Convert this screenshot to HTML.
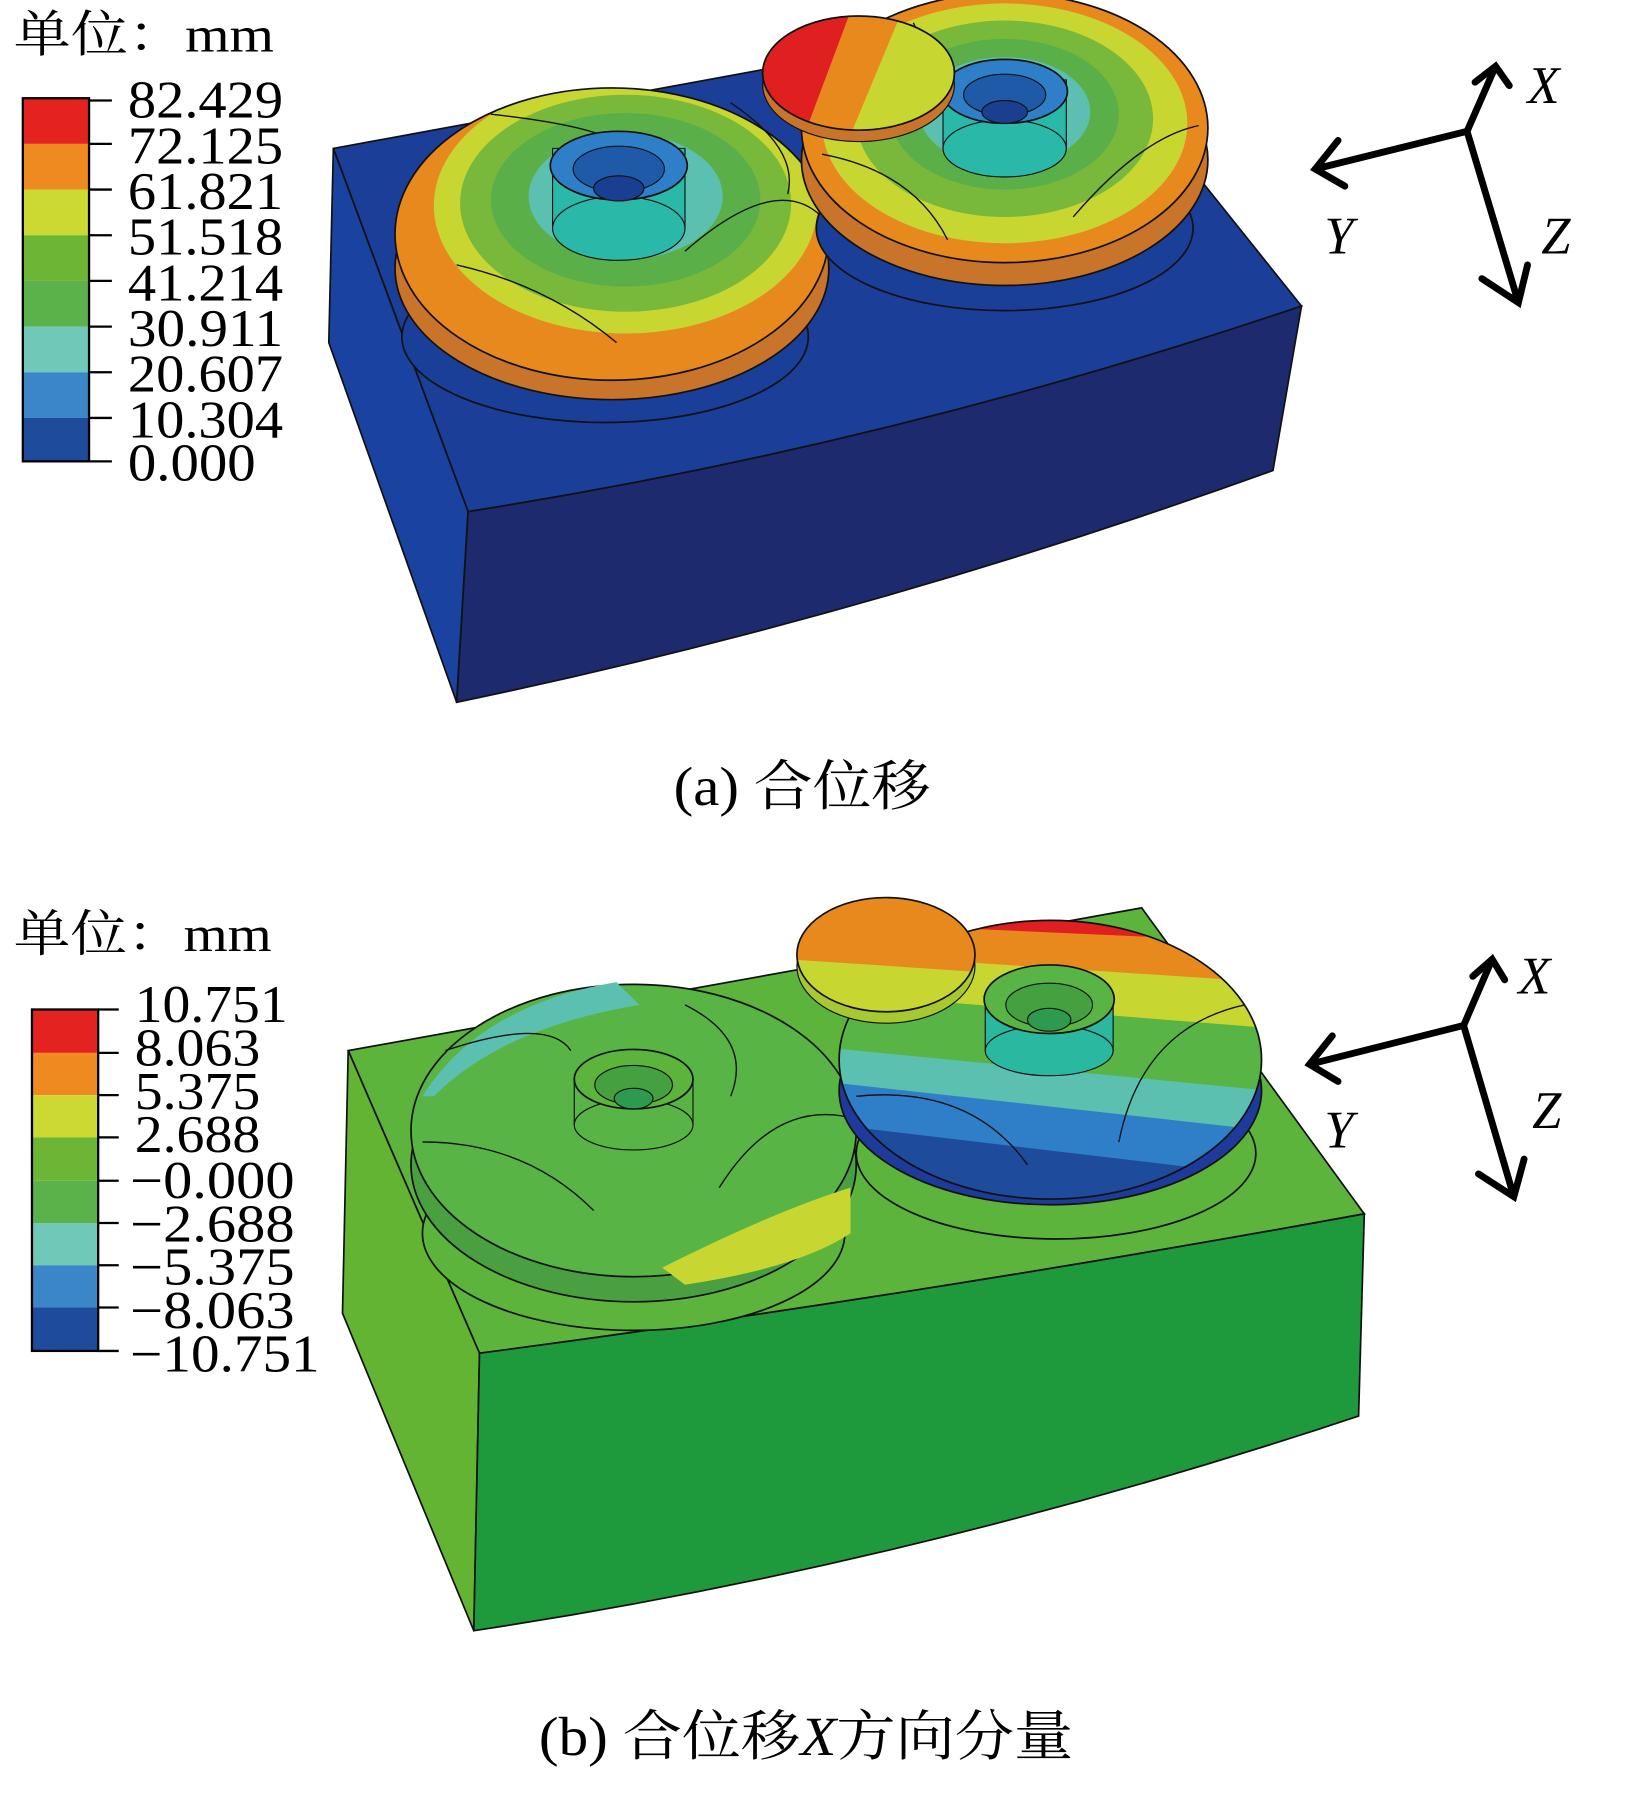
<!DOCTYPE html>
<html><head><meta charset="utf-8"><style>
html,body{margin:0;padding:0;background:#fff}
svg{display:block}
text{font-family:"Liberation Serif","Noto Serif CJK SC","Noto Sans CJK SC",serif}
</style></head><body>
<svg width="1644" height="1802" viewBox="0 0 1440 1578" preserveAspectRatio="none" xmlns="http://www.w3.org/2000/svg">
<defs>
<clipPath id="gA1"><ellipse cx="536" cy="205" rx="190" ry="128"/></clipPath>
<clipPath id="gA2"><ellipse cx="880" cy="112" rx="178" ry="118"/></clipPath>
<clipPath id="dA"><ellipse cx="752" cy="64" rx="84" ry="50"/></clipPath>
<clipPath id="gB2"><ellipse cx="920" cy="928" rx="185" ry="122"/></clipPath>
<clipPath id="dB"><ellipse cx="776" cy="836" rx="78" ry="50"/></clipPath>
</defs>

<!-- ===== Panel A ===== -->
<text x="12" y="45" font-size="44" textLength="228" lengthAdjust="spacingAndGlyphs">单位：mm</text>
<g stroke="#000" stroke-width="2">
<rect x="20" y="86" width="58" height="40" fill="#e42320" stroke="none"/>
<rect x="20" y="126" width="58" height="40" fill="#ee8a20" stroke="none"/>
<rect x="20" y="166" width="58" height="40" fill="#cbd932" stroke="none"/>
<rect x="20" y="206" width="58" height="40" fill="#6db535" stroke="none"/>
<rect x="20" y="246" width="58" height="40" fill="#5cb24a" stroke="none"/>
<rect x="20" y="286" width="58" height="40" fill="#70c8b8" stroke="none"/>
<rect x="20" y="326" width="58" height="40" fill="#3a86c8" stroke="none"/>
<rect x="20" y="366" width="58" height="38" fill="#1f4b9c" stroke="none"/>
<rect x="20" y="86" width="58" height="318" fill="none"/>
<path d="M78 88H98M78 126H98M78 166H98M78 206H98M78 246H98M78 286H98M78 326H98M78 366H98M78 404H98"/>
</g>
<g font-size="46">
<text x="112" y="103" textLength="136" lengthAdjust="spacingAndGlyphs">82.429</text><text x="112" y="143" textLength="136" lengthAdjust="spacingAndGlyphs">72.125</text>
<text x="112" y="183" textLength="136" lengthAdjust="spacingAndGlyphs">61.821</text><text x="112" y="223" textLength="136" lengthAdjust="spacingAndGlyphs">51.518</text>
<text x="112" y="263" textLength="136" lengthAdjust="spacingAndGlyphs">41.214</text><text x="112" y="303" textLength="136" lengthAdjust="spacingAndGlyphs">30.911</text>
<text x="112" y="343" textLength="136" lengthAdjust="spacingAndGlyphs">20.607</text><text x="112" y="383" textLength="136" lengthAdjust="spacingAndGlyphs">10.304</text>
<text x="112" y="421" textLength="112" lengthAdjust="spacingAndGlyphs">0.000</text>
</g>
<!-- box A -->
<g stroke="#111" stroke-width="1.5">
<path d="M292,130 L935,12 L1140,268 Q780,390 410,448 Z" fill="#1b3f98"/>
<polygon points="292,130 410,448 400,615 288,300" fill="#1a42a0"/>
<path d="M410,448 Q780,390 1140,268 L1115,412 Q760,540 400,615 Z" fill="#1e2a6e"/>
</g>
<!-- left gear A -->
<ellipse cx="530" cy="295" rx="178" ry="75" fill="#1a3f98" stroke="#111" stroke-width="1.5"/>
<ellipse cx="536" cy="235" rx="190" ry="115" fill="#c8742a" stroke="#111" stroke-width="1.5"/>
<g clip-path="url(#gA1)">
<rect x="340" y="70" width="400" height="280" fill="#e8891e"/>
<ellipse cx="548" cy="180" rx="168" ry="112" fill="#c8d632"/>
<ellipse cx="548" cy="178" rx="145" ry="95" fill="#78b83a"/>
<ellipse cx="548" cy="175" rx="118" ry="76" fill="#5aaf48"/>
<ellipse cx="548" cy="172" rx="85" ry="55" fill="#5cc0b0"/>
</g>
<ellipse cx="536" cy="205" rx="190" ry="128" fill="none" stroke="#111" stroke-width="1.5"/>
<g fill="none" stroke="#111" stroke-width="1.2">
<path d="M400,232 Q480,250 540,300"/><path d="M600,220 Q680,150 720,190"/>
<path d="M430,100 Q520,110 540,125"/><path d="M640,90 Q700,130 690,170"/>
</g>
<rect x="484" y="130" width="116" height="70" fill="#2ab8a8" stroke="#111"/>
<ellipse cx="542" cy="200" rx="58" ry="28" fill="#2ab8a8" stroke="#111"/>
<ellipse cx="542" cy="145" rx="60" ry="30" fill="#2f7fc8" stroke="#111" stroke-width="1.5"/>
<ellipse cx="542" cy="148" rx="40" ry="20" fill="#1e5aa8" stroke="#111"/>
<ellipse cx="542" cy="165" rx="22" ry="11" fill="#1a3f90" stroke="#111"/>
<!-- right gear A -->
<ellipse cx="880" cy="200" rx="165" ry="72" fill="#1a3f98" stroke="#111" stroke-width="1.5"/>
<ellipse cx="880" cy="140" rx="178" ry="110" fill="#c8742a" stroke="#111" stroke-width="1.5"/>
<g clip-path="url(#gA2)">
<rect x="690" y="-20" width="400" height="260" fill="#e8891e"/>
<ellipse cx="880" cy="108" rx="160" ry="105" fill="#c8d632"/>
<ellipse cx="880" cy="104" rx="130" ry="86" fill="#78b83a"/>
<ellipse cx="880" cy="100" rx="100" ry="66" fill="#5aaf48"/>
<ellipse cx="880" cy="98" rx="75" ry="48" fill="#5cc0b0"/>
</g>
<ellipse cx="880" cy="112" rx="178" ry="118" fill="none" stroke="#111" stroke-width="1.5"/>
<rect x="826" y="70" width="108" height="60" fill="#2ab8a8" stroke="#111"/>
<ellipse cx="880" cy="130" rx="54" ry="25" fill="#2ab8a8" stroke="#111"/>
<ellipse cx="880" cy="80" rx="55" ry="28" fill="#2f7fc8" stroke="#111" stroke-width="1.5"/>
<ellipse cx="880" cy="83" rx="36" ry="18" fill="#1e5aa8" stroke="#111"/>
<ellipse cx="880" cy="98" rx="20" ry="10" fill="#1a3f90" stroke="#111"/>
<g fill="none" stroke="#111" stroke-width="1.2">
<path d="M720,135 Q800,150 830,210"/><path d="M940,190 Q1000,120 1050,110"/>
<path d="M800,20 Q820,60 810,90"/>
</g>
<!-- disc A -->
<ellipse cx="752" cy="74" rx="84" ry="50" fill="#c8742a" stroke="#111"/>
<g clip-path="url(#dA)">
<rect x="660" y="10" width="200" height="120" fill="#c8d632"/>
<polygon points="660,10 790,10 740,130 660,130" fill="#e8891e"/>
<polygon points="660,10 745,10 700,130 660,130" fill="#e02020"/>
</g>
<ellipse cx="752" cy="64" rx="84" ry="50" fill="none" stroke="#111" stroke-width="1.5"/>
<!-- triad A -->
<g stroke="#000" stroke-width="6" fill="none" stroke-linecap="round">
<path d="M1285,115 L1310,58 M1292,72 L1310,58 L1322,75"/>
<path d="M1285,115 L1152,148 M1172,123 L1152,148 L1178,163"/>
<path d="M1285,115 L1330,265 M1298,244 L1330,265 L1338,232"/>
</g>
<g font-size="46" font-style="italic"><text x="1338" y="90">X</text><text x="1160" y="222">Y</text><text x="1350" y="222">Z</text></g>
<text x="590" y="705" font-size="48" textLength="225" lengthAdjust="spacingAndGlyphs">(a) 合位移</text>

<!-- ===== Panel B ===== -->
<text x="12" y="833" font-size="44" textLength="226" lengthAdjust="spacingAndGlyphs">单位：mm</text>
<g stroke="#000" stroke-width="2">
<rect x="28" y="884" width="58" height="38" fill="#e42320" stroke="none"/>
<rect x="28" y="922" width="58" height="37" fill="#ee8a20" stroke="none"/>
<rect x="28" y="959" width="58" height="37" fill="#cbd932" stroke="none"/>
<rect x="28" y="996" width="58" height="38" fill="#6db535" stroke="none"/>
<rect x="28" y="1034" width="58" height="37" fill="#5cb24a" stroke="none"/>
<rect x="28" y="1071" width="58" height="37" fill="#70c8b8" stroke="none"/>
<rect x="28" y="1108" width="58" height="37" fill="#3a86c8" stroke="none"/>
<rect x="28" y="1145" width="58" height="38" fill="#1f4b9c" stroke="none"/>
<rect x="28" y="884" width="58" height="299" fill="none"/>
<path d="M86 884H104M86 922H104M86 959H104M86 996H104M86 1034H104M86 1071H104M86 1108H104M86 1145H104M86 1183H104"/>
</g>
<g font-size="46">
<text x="118" y="895" textLength="134" lengthAdjust="spacingAndGlyphs">10.751</text><text x="118" y="933" textLength="110" lengthAdjust="spacingAndGlyphs">8.063</text>
<text x="118" y="971" textLength="110" lengthAdjust="spacingAndGlyphs">5.375</text><text x="118" y="1009" textLength="110" lengthAdjust="spacingAndGlyphs">2.688</text>
<text x="114" y="1049" textLength="144" lengthAdjust="spacingAndGlyphs">−0.000</text><text x="114" y="1087" textLength="144" lengthAdjust="spacingAndGlyphs">−2.688</text>
<text x="114" y="1125" textLength="144" lengthAdjust="spacingAndGlyphs">−5.375</text><text x="114" y="1163" textLength="144" lengthAdjust="spacingAndGlyphs">−8.063</text>
<text x="114" y="1201" textLength="166" lengthAdjust="spacingAndGlyphs">−10.751</text>
</g>
<g stroke="#111" stroke-width="1.5">
<path d="M305,920 L1000,795 L1195,1063 Q800,1135 420,1185 Z" fill="#5cb43c"/>
<polygon points="305,920 420,1185 415,1428 300,1150" fill="#62b432"/>
<path d="M420,1185 Q800,1135 1195,1063 L1190,1240 Q800,1370 415,1428 Z" fill="#1e9a3c"/>
</g>
<!-- left gear B -->
<ellipse cx="555" cy="1080" rx="185" ry="85" fill="#5cb43c" stroke="#111" stroke-width="1.5"/>
<ellipse cx="555" cy="1020" rx="195" ry="120" fill="#4aa040" stroke="#111" stroke-width="1.5"/>
<ellipse cx="555" cy="990" rx="195" ry="128" fill="#58b444" stroke="#111" stroke-width="1.5"/>
<path d="M370,960 Q420,880 540,860 L560,880 Q440,900 380,960 Z" fill="#5cc0b0"/>
<path d="M580,1110 Q680,1060 745,1040 L745,1080 Q700,1110 600,1125 Z" fill="#c8d632"/>
<g fill="none" stroke="#111" stroke-width="1.2">
<path d="M370,1000 Q460,1000 520,1060"/><path d="M630,1040 Q680,960 750,980"/>
<path d="M390,920 Q480,890 500,920"/><path d="M600,880 Q660,910 640,960"/>
</g>
<rect x="503" y="945" width="104" height="40" fill="#58b444" stroke="#111"/>
<ellipse cx="555" cy="985" rx="52" ry="22" fill="#58b444" stroke="#111"/>
<ellipse cx="555" cy="945" rx="52" ry="26" fill="#5cb43c" stroke="#111" stroke-width="1.5"/>
<ellipse cx="555" cy="950" rx="34" ry="17" fill="#45a040" stroke="#111"/>
<ellipse cx="555" cy="962" rx="17" ry="9" fill="#2e9a50" stroke="#111"/>
<!-- right gear B -->
<ellipse cx="925" cy="1010" rx="175" ry="75" fill="#5cb43c" stroke="#111" stroke-width="1.5"/>
<ellipse cx="920" cy="955" rx="185" ry="100" fill="#1e3a9a" stroke="#111" stroke-width="1.5"/>
<g clip-path="url(#gB2)">
<rect x="730" y="800" width="380" height="260" fill="#1f4b9c"/>
<polygon points="730,800 1110,800 1110,1030 730,985" fill="#2f7fc8"/>
<polygon points="730,800 1110,800 1110,990 730,948" fill="#5cc0b0"/>
<polygon points="730,800 1110,800 1110,955 730,918" fill="#58b444"/>
<polygon points="730,800 1110,800 1110,900 730,870" fill="#c8d632"/>
<polygon points="730,800 1110,800 1110,860 730,835" fill="#e8891e"/>
<polygon points="730,800 1110,800 1110,825 730,808" fill="#e02020"/>
</g>
<ellipse cx="920" cy="928" rx="185" ry="122" fill="none" stroke="#111" stroke-width="1.5"/>
<g fill="none" stroke="#111" stroke-width="1.2">
<path d="M750,960 Q850,950 900,1020"/><path d="M980,1000 Q1000,900 1090,880"/>
</g>
<rect x="863" y="870" width="112" height="50" fill="#2ab8a0" stroke="#111"/>
<ellipse cx="919" cy="920" rx="56" ry="22" fill="#2ab8a0" stroke="#111"/>
<ellipse cx="919" cy="875" rx="57" ry="30" fill="#58b444" stroke="#111" stroke-width="1.5"/>
<ellipse cx="919" cy="880" rx="38" ry="19" fill="#45a040" stroke="#111"/>
<ellipse cx="919" cy="893" rx="19" ry="10" fill="#2e9a50" stroke="#111"/>
<!-- disc B -->
<ellipse cx="776" cy="846" rx="78" ry="50" fill="#a8c832" stroke="#111"/>
<g clip-path="url(#dB)">
<rect x="690" y="780" width="180" height="120" fill="#c8d632"/>
<polygon points="690,780 870,780 870,852 690,840" fill="#e8891e"/>
</g>
<ellipse cx="776" cy="836" rx="78" ry="50" fill="none" stroke="#111" stroke-width="1.5"/>
<!-- triad B -->
<g stroke="#000" stroke-width="6" fill="none" stroke-linecap="round">
<path d="M1282,898 L1307,840 M1290,855 L1307,840 L1318,858"/>
<path d="M1282,898 L1147,932 M1167,907 L1147,932 L1172,947"/>
<path d="M1282,898 L1326,1048 M1295,1028 L1326,1048 L1335,1015"/>
</g>
<g font-size="46" font-style="italic"><text x="1330" y="870">X</text><text x="1160" y="1005">Y</text><text x="1342" y="988">Z</text></g>
<text x="472" y="1537" font-size="48" textLength="468" lengthAdjust="spacingAndGlyphs">(b) 合位移<tspan font-style="italic">X</tspan>方向分量</text>
</svg>
</body></html>
